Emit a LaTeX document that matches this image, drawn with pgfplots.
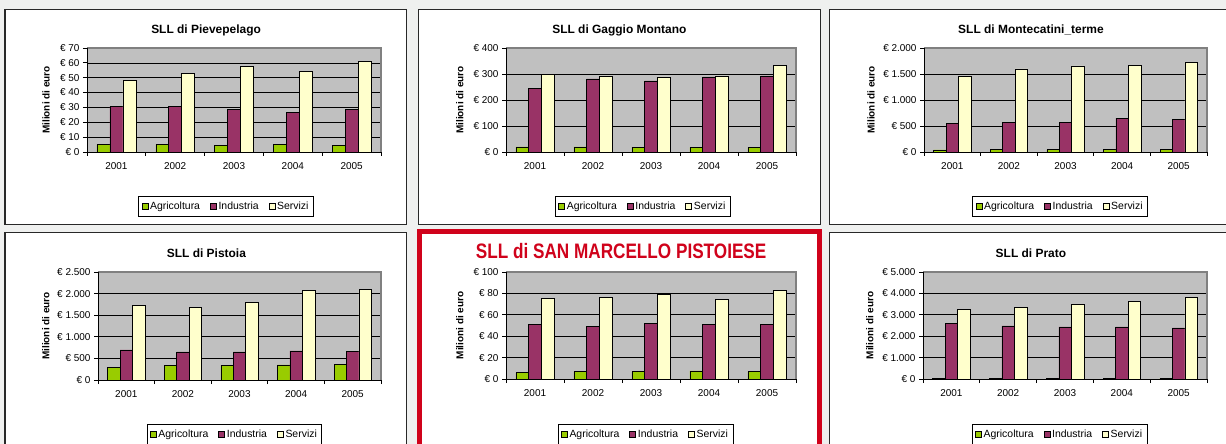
\documentclass[border=0pt]{standalone}
\usepackage{fontspec}
\setmainfont{Liberation Sans}
\newfontfamily\narrowfont[FakeStretch=0.82]{Liberation Sans}
\usepackage{pgfplots}
\pgfplotsset{compat=1.18}
\definecolor{agri}{RGB}{153,204,0}
\definecolor{ind}{RGB}{153,51,102}
\definecolor{serv}{RGB}{255,255,204}
\definecolor{plotgray}{RGB}{192,192,192}
\definecolor{framegray}{RGB}{128,128,128}
\definecolor{bgc}{RGB}{239,240,239}
\definecolor{boxc}{RGB}{40,40,40}
\definecolor{titlered}{RGB}{208,2,27}
\pgfplotsset{
  panel/.style={
    scale only axis, ybar=0pt, bar width=0.22,
    xmin=-0.5, xmax=4.5, ymin=0,
    xtick={0,1,2,3,4}, xticklabels={2001,2002,2003,2004,2005},
    minor xtick={-0.5,0.5,1.5,2.5,3.5,4.5},
    major x tick style={draw=none},
    minor x tick style={draw=black, line width=0.8bp},
    ytick style={draw=black, line width=0.8bp},
    tick align=outside, tick pos=left,
    major tick length=4bp, minor tick length=4bp,
    axis line style={draw=none},
    axis background/.style={fill=plotgray},
    ymajorgrids, major grid style={black, line width=0.7bp},
    tick label style={font=\fontsize{10}{12}\selectfont, black},
    xticklabel style={yshift=-3bp},
    ylabel={Milioni di euro},
    ylabel style={font=\fontsize{10}{12}\selectfont\bfseries, anchor=center},
    title style={font=\fontsize{12}{14}\selectfont\bfseries, anchor=base, yshift=-6pt},
    legend columns=3,
    legend style={draw=black, line width=0.8bp, fill=white, font=\fontsize{10.5}{12}\selectfont, anchor=center, inner xsep=3bp, inner ysep=3.5bp, /tikz/every even column/.append style={column sep=8bp}},
    legend image code/.code={\draw[##1,draw=black,line width=0.5bp] (0bp,-3bp) rectangle (6bp,3bp);},
    after end axis/.code={
      \draw[framegray, line width=1.6bp] (rel axis cs:0,1) -- (rel axis cs:1,1) -- (rel axis cs:1,0);
      \draw[black, line width=0.8bp] (rel axis cs:0,1) -- (rel axis cs:0,0) -- (rel axis cs:1,0);
    },
  },
  pa/.style={fill=agri, draw=black, line width=0.5bp, bar shift=-0.22},
  pi/.style={fill=ind, draw=black, line width=0.5bp, bar shift=0},
  ps/.style={fill=serv, draw=black, line width=0.5bp, bar shift=0.22},
}
\begin{document}
\begin{tikzpicture}
\useasboundingbox (0,0) rectangle (1226bp,444bp);
\clip (0,0) rectangle (1226bp,444bp);
\fill[bgc] (0,0) rectangle (1226bp,444bp);
\begin{scope}[x=1bp,y=1bp]
\draw[boxc, line width=1.3bp, fill=white] (5,219.7) rectangle (406.7,434.5);
\draw[boxc, line width=1.3bp, fill=white] (418.3,219.7) rectangle (820.3,434.5);
\draw[boxc, line width=1.3bp, fill=white] (829.7,219.7) rectangle (1240,434.5);
\draw[boxc, line width=1.3bp, fill=white] (5,-20) rectangle (406.7,211.5);
\draw[titlered, line width=5bp, fill=white] (419.5,-20) rectangle (819.7,212.2);
\draw[boxc, line width=1.3bp, fill=white] (829.7,-20) rectangle (1240,211.5);
\end{scope}

% Panel 1
\begin{axis}[panel, at={(87bp,292bp)}, anchor=south west, width=294bp, height=104bp,
  ymax=70, ytick={0,10,20,30,40,50,60,70},
  yticklabels={€ 0,€ 10,€ 20,€ 30,€ 40,€ 50,€ 60,€ 70},
  title={SLL di Pievepelago}, title style={at={(axis description cs:0.405,1.135)}},
  ylabel style={at={(axis description cs:-0.139,0.5)}},
  legend style={at={(0.473,-0.524)}}]
\addplot[pa] coordinates {(0,4.9) (1,5.2) (2,4.5) (3,4.9) (4,4.5)};
\addplot[pi] coordinates {(0,30.7) (1,30.7) (2,28.7) (3,26.7) (4,28.7)};
\addplot[ps] coordinates {(0,48.2) (1,52.7) (2,57.7) (3,54.3) (4,61.0)};
\legend{Agricoltura,Industria,Servizi}
\end{axis}

% Panel 2
\begin{axis}[panel, at={(506bp,292bp)}, anchor=south west, width=290bp, height=104bp,
  ymax=400, ytick={0,100,200,300,400},
  yticklabels={€ 0,€ 100,€ 200,€ 300,€ 400},
  title={SLL di Gaggio Montano}, title style={at={(axis description cs:0.391,1.135)}},
  ylabel style={at={(axis description cs:-0.159,0.5)}},
  legend style={at={(0.472,-0.522)}}]
\addplot[pa] coordinates {(0,20) (1,20) (2,18) (3,18) (4,18)};
\addplot[pi] coordinates {(0,245) (1,281) (2,274) (3,289) (4,293)};
\addplot[ps] coordinates {(0,299) (1,293) (2,289) (3,293) (4,334)};
\legend{Agricoltura,Industria,Servizi}
\end{axis}

% Panel 3
\begin{axis}[panel, at={(924bp,292bp)}, anchor=south west, width=283bp, height=104bp,
  ymax=2000, ytick={0,500,1000,1500,2000},
  yticklabels={€ 0,€ 500,€ 1.000,€ 1.500,€ 2.000},
  title={SLL di Montecatini\_terme}, title style={at={(axis description cs:0.378,1.135)}},
  ylabel style={at={(axis description cs:-0.187,0.5)}},
  legend style={at={(0.481,-0.522)}}]
\addplot[pa] coordinates {(0,43) (1,45) (2,45) (3,45) (4,45)};
\addplot[pi] coordinates {(0,555) (1,568) (2,574) (3,652) (4,632)};
\addplot[ps] coordinates {(0,1458) (1,1600) (2,1658) (3,1671) (4,1729)};
\legend{Agricoltura,Industria,Servizi}
\end{axis}

% Panel 4
\begin{axis}[panel, at={(98bp,64bp)}, anchor=south west, width=283bp, height=108bp,
  ymax=2500, ytick={0,500,1000,1500,2000,2500},
  yticklabels={€ 0,€ 500,€ 1.000,€ 1.500,€ 2.000,€ 2.500},
  title={SLL di Pistoia}, title style={at={(axis description cs:0.383,1.136)}},
  ylabel style={at={(axis description cs:-0.184,0.5)}},
  legend style={at={(0.482,-0.505)}}]
\addplot[pa] coordinates {(0,284) (1,330) (2,345) (3,353) (4,368)};
\addplot[pi] coordinates {(0,698) (1,652) (2,652) (3,675) (4,667)};
\addplot[ps] coordinates {(0,1733) (1,1687) (2,1802) (3,2078) (4,2094)};
\legend{Agricoltura,Industria,Servizi}
\end{axis}

% Panel 5
\begin{axis}[panel, at={(506bp,65bp)}, anchor=south west, width=290bp, height=107bp,
  ymax=100, ytick={0,20,40,60,80,100},
  yticklabels={€ 0,€ 20,€ 40,€ 60,€ 80,€ 100},
  title={SLL di SAN MARCELLO PISTOIESE},
  title style={at={(axis description cs:0.397,1.128)}, font=\narrowfont\fontsize{21}{24}\selectfont\bfseries, text=titlered},
  ylabel style={at={(axis description cs:-0.159,0.5)}},
  legend style={at={(0.481,-0.521)}}]
\addplot[pa] coordinates {(0,5.9) (1,6.8) (2,6.8) (3,7.7) (4,6.8)};
\addplot[pi] coordinates {(0,51.1) (1,49.5) (2,52.0) (3,51.1) (4,51.4)};
\addplot[ps] coordinates {(0,75.5) (1,76.2) (2,79.3) (3,74.6) (4,83.0)};
\legend{Agricoltura,Industria,Servizi}
\end{axis}

% Panel 6
\begin{axis}[panel, at={(923bp,65bp)}, anchor=south west, width=284bp, height=107bp,
  ymax=5000, ytick={0,1000,2000,3000,4000,5000},
  yticklabels={€ 0,€ 1.000,€ 2.000,€ 3.000,€ 4.000,€ 5.000},
  title={SLL di Prato}, title style={at={(axis description cs:0.380,1.137)}},
  ylabel style={at={(axis description cs:-0.187,0.5)}},
  legend style={at={(0.481,-0.521)}}]
\addplot[pa] coordinates {(0,40) (1,40) (2,40) (3,40) (4,40)};
\addplot[pi] coordinates {(0,2616) (1,2477) (2,2430) (3,2430) (4,2384)};
\addplot[ps] coordinates {(0,3266) (1,3359) (2,3498) (3,3638) (4,3824)};
\legend{Agricoltura,Industria,Servizi}
\end{axis}
\end{tikzpicture}
\end{document}
